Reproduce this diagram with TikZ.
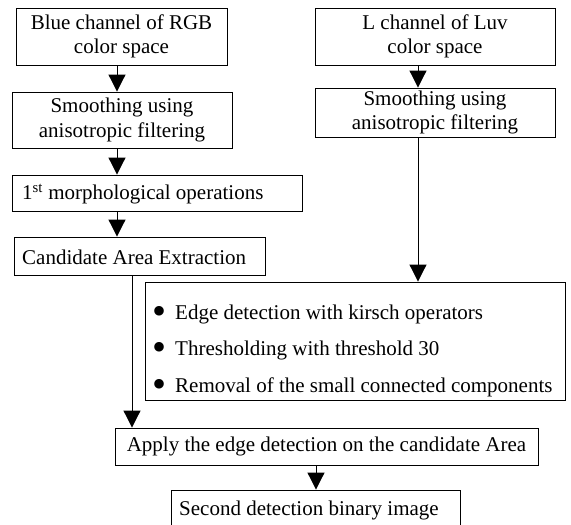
\documentclass[tikz,border=0pt]{standalone}
\usepackage{fontspec}
\setmainfont{Liberation Serif}
\usetikzlibrary{arrows.meta}
\newcommand{\bigbullet}{{\fontsize{40}{40}\selectfont\raisebox{-5pt}{•}}}
\begin{document}
\begin{tikzpicture}[x=1pt,y=-1pt,
  box/.style={draw,line width=0.9pt,inner sep=0pt,
    font=\fontsize{21}{24.5}\selectfont,align=center},
  flow/.style={line width=1pt,-{Triangle[width=17pt,length=17pt]}}]
\useasboundingbox[fill=white] (0,0) rectangle (571,525);

% left column
\node[box,minimum width=211pt,minimum height=57pt] (A) at (121.5,36.5)
  {Blue channel of RGB\\color space};
\node[box,minimum width=220pt,minimum height=56pt] (B) at (122,120)
  {Smoothing using\\anisotropic filtering};
\node[draw,line width=0.9pt,minimum width=290pt,minimum height=36pt] (C) at (157,193) {};
\node[font=\fontsize{21}{24.5}\selectfont,anchor=west,inner sep=0pt] (Ct) at (22,194)
  {1\textsuperscript{st} morphological operations};
\node[draw,line width=0.9pt,minimum width=251pt,minimum height=38pt] (D) at (139.5,256) {};
\node[font=\fontsize{21}{24.5}\selectfont,anchor=west,inner sep=0pt] (Dt) at (22,257)
  {Candidate Area Extraction};

% right column
\node[box,minimum width=240pt,minimum height=57pt] (E) at (435,36.5)
  {L channel of Luv\\color space};
\node[box,minimum width=240pt,minimum height=49pt] (F) at (435,112.5)
  {Smoothing using\\anisotropic filtering};

% edge detection steps
\node[draw,line width=0.9pt,minimum width=420pt,minimum height=118pt] (G) at (355,341) {};
\node[font=\fontsize{21}{36.5}\selectfont,anchor=west,align=left,inner sep=0pt] (Gt) at (152,351)
  {\bigbullet\hspace{9pt}Edge detection with kirsch operators\\
   \bigbullet\hspace{9pt}Thresholding with threshold 30\\
   \bigbullet\hspace{9pt}Removal of the small connected components};

% bottom boxes
\node[box,minimum width=423pt,minimum height=37pt] (H) at (326.5,446.5)
  {Apply the edge detection on the candidate Area};
\node[draw,line width=0.9pt,minimum width=289pt,minimum height=38pt] (I) at (315.5,509) {};
\node[font=\fontsize{21}{24.5}\selectfont,anchor=west,inner sep=0pt] (It) at (179,510)
  {Second detection binary image};

% connector columns
\coordinate (lx) at (117,0);
\coordinate (rx) at (418,0);
\coordinate (cx) at (132,0);
\coordinate (hx) at (316,0);

\draw[flow] (A.south -| lx) -- (B.north -| lx);
\draw[flow] (B.south -| lx) -- (C.north -| lx);
\draw[flow] (C.south -| lx) -- (D.north -| lx);
\draw[flow] (E.south -| rx) -- (F.north -| rx);
\draw[flow] (F.south -| rx) -- (G.north -| rx);
\draw[flow] (D.south -| cx) -- (H.north -| cx);
\draw[flow] (H.south -| hx) -- (I.north -| hx);
\end{tikzpicture}
\end{document}
